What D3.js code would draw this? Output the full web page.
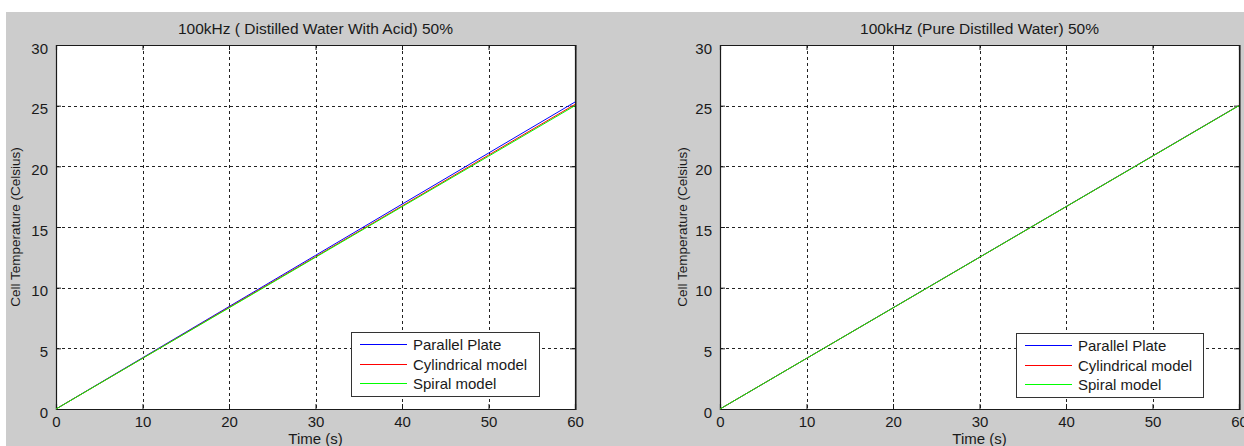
<!DOCTYPE html>
<html>
<head>
<meta charset="utf-8">
<script src="https://cdn.jsdelivr.net/npm/d3@7/dist/d3.min.js"></script>
<style>
  html, body { margin: 0; padding: 0; background: #ffffff; }
  svg { display: block; }
  text { font-family: "Liberation Sans", Arial, sans-serif; fill: #1a1a1a; }
</style>
</head>
<body>
<svg id="chart" width="1244" height="446"></svg>
<script>
// ---- data ----
const timeSec = [0, 10, 20, 30, 40, 50, 60];
const acidParallel    = [0, 4.22, 8.44, 12.66, 16.88, 21.09, 25.30];
const acidCylindrical = [0, 4.18, 8.37, 12.55, 16.73, 20.92, 25.10];
const acidSpiral      = [0, 4.17, 8.33, 12.50, 16.67, 20.83, 25.00];
const pureParallel    = [0, 4.17, 8.34, 12.51, 16.68, 20.85, 25.02];
const pureCylindrical = [0, 4.17, 8.33, 12.50, 16.67, 20.84, 25.01];
const pureSpiral      = [0, 4.17, 8.33, 12.50, 16.67, 20.83, 25.00];
const xTicks = [0, 10, 20, 30, 40, 50, 60];
const yTicks = [0, 5, 10, 15, 20, 25, 30];
const seriesNames = ["Parallel Plate", "Cylindrical model", "Spiral model"];
const seriesColors = ["#0000ff", "#ff0000", "#00ff00"];
const titles = ["100kHz ( Distilled Water With Acid) 50%", "100kHz (Pure Distilled Water) 50%"];
const xLabel = "Time (s)";
const yLabel = "Cell Temperature (Celsius)";

const svg = d3.select("#chart");
svg.append("rect").attr("x", 6).attr("y", 12).attr("width", 1238).attr("height", 434).attr("fill", "#cccccc");

const panels = [
  { left: 56, right: 575, top: 45, bottom: 409, title: titles[0], series: [acidParallel, acidCylindrical, acidSpiral],
    legend: { x: 351, y: 332, w: 188, h: 64 }, ylabX: 15 },
  { left: 720, right: 1239, top: 45, bottom: 409, title: titles[1], series: [pureParallel, pureCylindrical, pureSpiral],
    legend: { x: 1016, y: 333, w: 187, h: 64 }, ylabX: 682 }
];

panels.forEach(p => {
  const g = svg.append("g");
  const x = d3.scaleLinear().domain([0, 60]).range([p.left, p.right]);
  const y = d3.scaleLinear().domain([0, 30]).range([p.bottom, p.top]);

  // plot area
  g.append("rect").attr("x", p.left).attr("y", p.top)
    .attr("width", p.right - p.left).attr("height", p.bottom - p.top)
    .attr("fill", "#ffffff");
  g.append("line").attr("x1", p.right + 1.5).attr("x2", p.right + 1.5).attr("y1", p.top).attr("y2", p.bottom + 1)
    .attr("stroke", "#777").attr("stroke-width", 1);

  // grid
  g.selectAll(".vg").data(xTicks.slice(1, -1)).join("line").attr("class", "vg")
    .attr("x1", d => Math.round(x(d)) + 0.5).attr("x2", d => Math.round(x(d)) + 0.5)
    .attr("y1", p.top).attr("y2", p.bottom)
    .attr("stroke", "#222").attr("stroke-width", 1).attr("stroke-dasharray", "3,3");
  g.selectAll(".hg").data(yTicks.slice(1, -1)).join("line").attr("class", "hg")
    .attr("x1", p.left).attr("x2", p.right)
    .attr("y1", d => Math.round(y(d)) + 0.5).attr("y2", d => Math.round(y(d)) + 0.5)
    .attr("stroke", "#222").attr("stroke-width", 1).attr("stroke-dasharray", "3,3");

  // axes
  const ax = g.append("g").attr("transform", `translate(0,${p.bottom})`)
    .call(d3.axisBottom(x).tickValues(xTicks).tickSize(-5).tickPadding(10));
  const axT = g.append("g").attr("transform", `translate(0,${p.top})`)
    .call(d3.axisTop(x).tickValues(xTicks).tickSize(-5).tickFormat(""));
  const ay = g.append("g").attr("transform", `translate(${p.left},0)`)
    .call(d3.axisLeft(y).tickValues(yTicks).tickSize(-5).tickPadding(8));
  const ayR = g.append("g").attr("transform", `translate(${p.right},0)`)
    .call(d3.axisRight(y).tickValues(yTicks).tickSize(-5).tickFormat(""));
  [ax, axT, ay, ayR].forEach(a => {
    a.select(".domain").attr("stroke", "#1a1a1a").attr("stroke-width", 1.2);
    a.selectAll(".tick line").attr("stroke", "#1a1a1a");
    a.selectAll("text").style("font-size", "15px").attr("fill", "#1a1a1a")
      .style("font-family", "'Liberation Sans', Arial, sans-serif");
  });
  ay.selectAll("text").attr("dy", "0.55em");
  ax.selectAll("text").attr("dy", "0.55em");

  // lines (drawn in order; spiral last on top)
  const line = d3.line().x((d, i) => x(timeSec[i])).y(d => y(d));
  [0, 1, 2].forEach(k => {
    g.append("path").datum(p.series[k]).attr("d", line)
      .attr("fill", "none").attr("stroke", seriesColors[k]).attr("stroke-width", 1);
  });

  // title & labels
  g.append("text").attr("x", (p.left + p.right) / 2).attr("y", 34)
    .attr("text-anchor", "middle").style("font-size", "15.5px").text(p.title);
  g.append("text").attr("x", (p.left + p.right) / 2).attr("y", 444)
    .attr("text-anchor", "middle").style("font-size", "15px").text(xLabel);
  g.append("text").attr("transform", `translate(${p.ylabX},${(p.top + p.bottom) / 2}) rotate(-90)`)
    .attr("dy", "0.35em").attr("text-anchor", "middle").style("font-size", "13.5px").text(yLabel);

  // legend
  const L = p.legend;
  const lg = g.append("g");
  lg.append("rect").attr("x", L.x + 0.5).attr("y", L.y + 0.5).attr("width", L.w).attr("height", L.h)
    .attr("fill", "#ffffff").attr("stroke", "#333").attr("stroke-width", 1);
  seriesNames.forEach((nm, i) => {
    const ry = Math.round(L.y + 12 + i * 19.5) + 0.5;
    lg.append("line").attr("x1", L.x + 9).attr("x2", L.x + 56).attr("y1", ry).attr("y2", ry)
      .attr("stroke", seriesColors[i]).attr("stroke-width", 1.2);
    lg.append("text").attr("x", L.x + 62).attr("y", ry).attr("dy", "0.36em")
      .style("font-size", "15px").text(nm);
  });
});
</script>
</body>
</html>
